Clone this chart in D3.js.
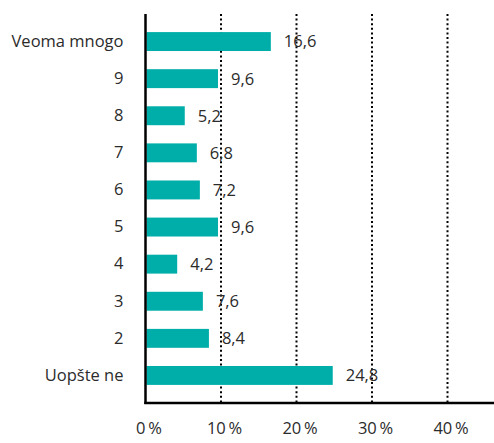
<!DOCTYPE html>
<html>
<head>
<meta charset="utf-8">
<script src="https://cdn.jsdelivr.net/npm/d3@7"></script>
<style>
	body { margin: 0; background: #fff; }
	text { font-family: 'Open Sans', 'Noto Sans', sans-serif; fill: #2b2b2b; }
</style>
</head>
<body>
<script>
const categories = ['Veoma mnogo', '9', '8', '7', '6', '5', '4', '3', '2', 'Uopšte ne'];
const values = [16.6, 9.6, 5.2, 6.8, 7.2, 9.6, 4.2, 7.6, 8.4, 24.8];
const xTicks = [0, 10, 20, 30, 40];

const width = 494;
const height = 443;
const margin = { top: 14, right: 0, bottom: 40, left: 145.5 };
const plotW = width - margin.left - margin.right;
const plotH = 403 - margin.top;
const fontSize = '16.5px';

const svg = d3.select('body')
	.append('svg')
	.attr('width', width)
	.attr('height', height);

const g = svg.append('g')
	.attr('transform', 'translate(' + margin.left + ',' + margin.top + ')');

const xScale = d3.scaleLinear().domain([0, 10]).range([0, 75.5]);
const yScale = d3.scaleBand().domain(categories).range([9, plotH - 9]).paddingInner(0.49).paddingOuter(0.245);

// dotted grid lines
g.append('g')
	.selectAll('line')
	.data(xTicks.slice(1))
	.enter()
	.append('line')
	.attr('x1', (d) => xScale(d))
	.attr('x2', (d) => xScale(d))
	.attr('y1', 0)
	.attr('y2', plotH)
	.style('stroke', '#000')
	.style('stroke-width', 2)
	.style('stroke-dasharray', '2,2.6');

g.append('g')
	.selectAll('rect')
	.data(values)
	.enter()
	.append('rect')
	.attr('x', 1)
	.attr('y', (d, i) => yScale(categories[i]))
	.attr('width', (d) => xScale(d) - 1)
	.attr('height', yScale.bandwidth())
	.style('fill', '#00aea9');

g.append('g')
	.selectAll('text')
	.data(values)
	.enter()
	.append('text')
	.attr('x', (d) => xScale(d) + 13)
	.attr('y', (d, i) => yScale(categories[i]) + yScale.bandwidth() / 2)
	.attr('dy', '0.36em')
	.style('font-size', fontSize)
	.text((d) => d3.format('.1f')(d).replace('.', ','));

// axes
const xAxis = d3.axisBottom(xScale).tickValues(xTicks).tickSize(0).tickPadding(19)
	.tickFormat((d) => d + '\u2009%');
const xAxisSel = g.append('g')
	.attr('transform', 'translate(0,' + plotH + ')')
	.call(xAxis);
xAxisSel.select('.domain').remove();
xAxisSel.selectAll('text').style('font-size', fontSize).attr('fill', '#2b2b2b').attr('dx', 3);

const yAxis = d3.axisLeft(yScale).tickSize(0).tickPadding(22);
const yAxisSel = g.append('g').call(yAxis);
yAxisSel.select('.domain').remove();
yAxisSel.selectAll('text').style('font-size', fontSize).attr('fill', '#2b2b2b');

// axis lines
g.append('line')
	.attr('x1', 0).attr('x2', 0)
	.attr('y1', 0).attr('y2', plotH + 1)
	.style('stroke', '#000').style('stroke-width', 2.5);
g.append('line')
	.attr('x1', -1.25).attr('x2', plotW)
	.attr('y1', plotH).attr('y2', plotH)
	.style('stroke', '#000').style('stroke-width', 2.5);
</script>
</body>
</html>
